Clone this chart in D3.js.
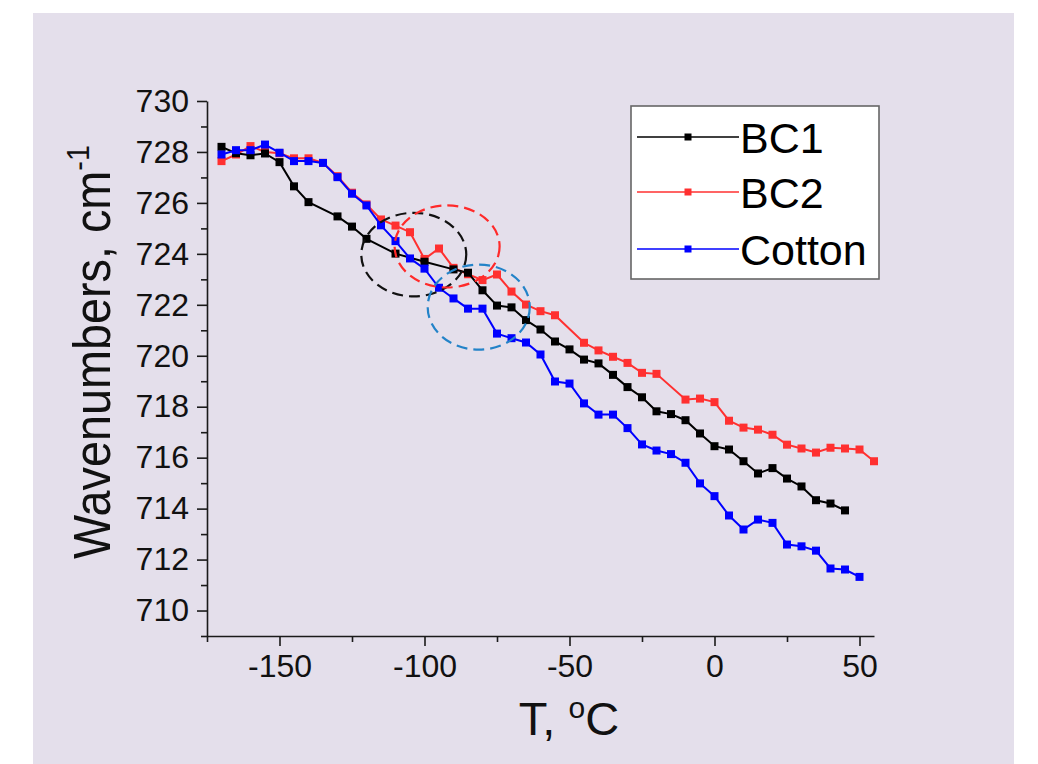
<!DOCTYPE html>
<html>
<head>
<meta charset="utf-8">
<script src="https://cdn.jsdelivr.net/npm/d3@7"></script>
<style>
  html, body { margin: 0; padding: 0; background: #fff; }
  text { font-family: "Liberation Sans", Arial, sans-serif; }
</style>
</head>
<body>
<svg width="1038" height="764"></svg>
<script>
// temperatures, deg C
var tBC1 = [-170,-165,-160,-155,-150,-145,-140,-130,-125,-120,-110,-100,-90,-85,-80,-75,-70,-65,-60,-55,-50,-45,-40,-35,-30,-25,-20,-15,-10,-5,0,5,10,15,20,25,30,35,40,45];
var wBC1 = [728.2,727.95,727.87,727.94,727.6,726.65,726.03,725.47,725.07,724.59,724.01,723.69,723.39,723.26,722.57,721.97,721.9,721.4,721.03,720.56,720.25,719.85,719.7,719.25,718.77,718.37,717.82,717.71,717.47,716.95,716.45,716.32,715.86,715.38,715.59,715.18,714.87,714.33,714.2,713.93];

var tBC2 = [-170,-165,-160,-155,-150,-145,-140,-135,-130,-125,-120,-115,-110,-105,-100,-95,-90,-85,-80,-75,-70,-65,-60,-55,-45,-40,-35,-30,-25,-20,-10,-5,0,5,10,15,20,25,30,35,40,45,50,55];
var wBC2 = [727.64,727.9,728.23,728.0,727.95,727.75,727.75,727.57,727.05,726.4,725.94,725.35,725.11,724.85,723.8,724.21,723.45,723.2,722.97,723.19,722.52,722.01,721.75,721.59,720.51,720.21,719.96,719.72,719.33,719.29,718.28,718.32,718.18,717.45,717.18,717.1,716.9,716.51,716.36,716.2,716.39,716.36,716.32,715.86];

var tCot = [-170,-165,-160,-155,-150,-145,-140,-135,-130,-125,-120,-115,-110,-105,-100,-95,-90,-85,-80,-75,-70,-65,-60,-55,-50,-45,-40,-35,-30,-25,-20,-15,-10,-5,0,5,10,15,20,25,30,35,40,45,50];
var wCot = [727.9,728.07,728.07,728.29,727.97,727.64,727.64,727.57,727.01,726.36,725.9,725.12,724.5,723.82,723.42,722.67,722.25,721.85,721.85,720.87,720.69,720.52,720.05,718.99,718.91,718.13,717.69,717.69,717.16,716.52,716.28,716.14,715.8,714.99,714.49,713.73,713.18,713.57,713.44,712.59,712.52,712.35,711.65,711.61,711.32];

var seriesNames = ["BC1", "BC2", "Cotton"];
var seriesColors = ["#000000", "#ff3030", "#0000ff"];

var xTicks = [-150, -100, -50, 0, 50];
var yTicks = [710, 712, 714, 716, 718, 720, 722, 724, 726, 728, 730];

// dashed circles: centre T, centre W, radius in T, radius in W
var ringT = [-103.7, -92.2, -81.3];
var ringW = [723.97, 724.29, 721.91];
var ringRT = [18.1, 18.1, 17.6];
var ringRW = [1.64, 1.61, 1.67];
var ringColors = ["#111111", "#ff2a2a", "#2383c8"];

var svg = d3.select("svg");

svg.append("rect")
    .attr("x", 33).attr("y", 13)
    .attr("width", 981).attr("height", 751)
    .attr("fill", "#e4dfeb");

var x = d3.scaleLinear().domain([-175, 55]).range([207, 874]);
var y = d3.scaleLinear().domain([709, 730]).range([636, 101]);

// plain hyphen for negatives, like the original
var fmt = function (d) {return String(d);};

// axes
svg.append("g").attr("transform", "translate(0,636)")
    .call(d3.axisBottom(x).tickValues(xTicks).tickFormat(fmt).tickSize(10).tickPadding(8).tickSizeOuter(0));
svg.append("g").attr("transform", "translate(0,636)")
    .call(d3.axisBottom(x).tickValues([-175, -125, -75, -25, 25]).tickSize(6).tickFormat("").tickSizeOuter(0))
    .select(".domain").remove();

svg.append("g").attr("transform", "translate(207,0)")
    .call(d3.axisLeft(y).tickValues(yTicks).tickFormat(fmt).tickSize(10).tickPadding(8).tickSizeOuter(0));
svg.append("g").attr("transform", "translate(207,0)")
    .call(d3.axisLeft(y).tickValues(d3.range(709, 730, 2)).tickSize(6).tickFormat("").tickSizeOuter(0))
    .select(".domain").remove();

svg.selectAll(".domain").attr("stroke", "#1a1a1a").attr("stroke-width", 1.6);
svg.selectAll(".tick line").attr("stroke", "#1a1a1a").attr("stroke-width", 1.6);
svg.selectAll(".tick text")
    .attr("font-size", 32)
    .attr("fill", "#111")
    .attr("font-family", "Liberation Sans, Arial, sans-serif");

// axis titles
svg.append("text")
    .attr("x", 569).attr("y", 735)
    .attr("text-anchor", "middle")
    .attr("font-size", 47)
    .attr("fill", "#111")
    .html('T, <tspan font-size="30" dy="-17">o</tspan><tspan dy="17">C</tspan>');

// the original font is a bit condensed: taller glyphs in the same length
svg.append("text")
    .attr("transform", "translate(110,352) rotate(-90) scale(0.9,1)")
    .attr("text-anchor", "middle")
    .attr("font-size", 52)
    .attr("fill", "#111")
    .html('Wavenumbers, cm<tspan font-size="32" dy="-21">-1</tspan>');

// data
var data = [
    {name: "BC2", color: seriesColors[1], pts: tBC2.map(function (t, i) {return [t, wBC2[i]];})},
    {name: "BC1", color: seriesColors[0], pts: tBC1.map(function (t, i) {return [t, wBC1[i]];})},
    {name: "Cotton", color: seriesColors[2], pts: tCot.map(function (t, i) {return [t, wCot[i]];})}
];

var line = d3.line()
    .x(function (d) {return x(d[0]);})
    .y(function (d) {return y(d[1]);});

var ms = 8;
data.forEach(function (s) {
    var g = svg.append("g");
    g.append("path")
        .datum(s.pts)
        .attr("d", line)
        .attr("fill", "none")
        .attr("stroke", s.color)
        .attr("stroke-width", 2);
    g.selectAll("rect")
        .data(s.pts)
        .enter()
        .append("rect")
        .attr("x", function (d) {return x(d[0]) - ms / 2;})
        .attr("y", function (d) {return y(d[1]) - ms / 2;})
        .attr("width", ms).attr("height", ms)
        .attr("fill", s.color);
});

// dashed rings
svg.selectAll(".ring")
    .data(ringT)
    .enter()
    .append("ellipse")
    .attr("class", "ring")
    .attr("cx", function (d) {return x(d);})
    .attr("cy", function (d, i) {return y(ringW[i]);})
    .attr("rx", function (d, i) {return x(d + ringRT[i]) - x(d);})
    .attr("ry", function (d, i) {return y(ringW[i] - ringRW[i]) - y(ringW[i]);})
    .attr("fill", "none")
    .attr("stroke", function (d, i) {return ringColors[i];})
    .attr("stroke-width", 2.2)
    .attr("stroke-dasharray", "11,6");

// legend
var legend = svg.append("g");
legend.append("rect")
    .attr("x", 631).attr("y", 106)
    .attr("width", 248).attr("height", 173)
    .attr("fill", "#fff")
    .attr("stroke", "#666")
    .attr("stroke-width", 1.6);

var rowY = [137, 192, 249];
seriesNames.forEach(function (n, i) {
    legend.append("line")
        .attr("x1", 637).attr("x2", 739)
        .attr("y1", rowY[i]).attr("y2", rowY[i])
        .attr("stroke", seriesColors[i])
        .attr("stroke-width", 1.4);
    legend.append("rect")
        .attr("x", 688 - 3.5).attr("y", rowY[i] - 3.5)
        .attr("width", 7).attr("height", 7)
        .attr("fill", seriesColors[i]);
    legend.append("text")
        .attr("x", 740).attr("y", rowY[i] + 16)
        .attr("font-size", 43)
        .attr("fill", "#000")
        .text(n);
});
</script>
</body>
</html>
